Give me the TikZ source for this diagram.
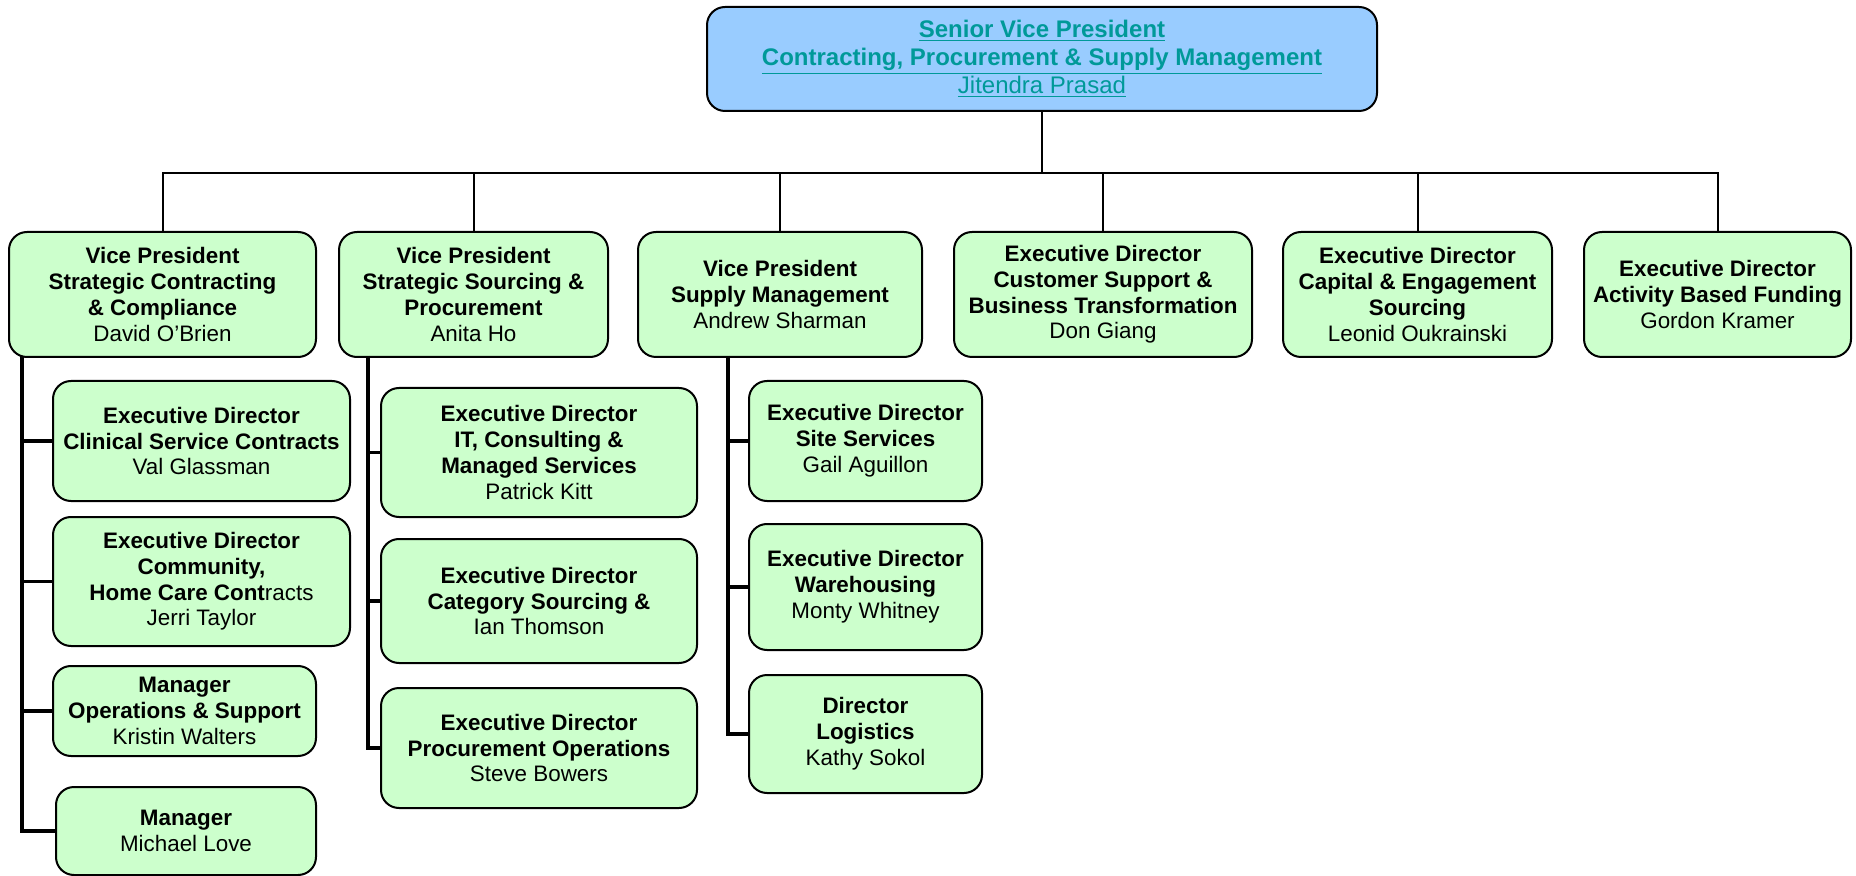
\documentclass[tikz,border=0pt]{standalone}
\usepackage{fontspec}
\setmainfont{Liberation Sans}
\definecolor{boxgreen}{RGB}{204,255,204}
\definecolor{boxblue}{RGB}{153,204,255}
\definecolor{linkteal}{RGB}{0,153,153}

\begin{document}
\begin{tikzpicture}[x=0.5pt,y=-0.5pt,
  box/.style={draw,line width=1pt,rounded corners=9pt,fill=boxgreen,align=center,inner sep=0pt,font=\fontsize{11.2}{12.9}\selectfont},
  topbox/.style={box,fill=boxblue,text=linkteal,font=\fontsize{12}{13.9}\selectfont},
  bus/.style={line width=1pt},
  spine/.style={line width=1.6pt}]
\useasboundingbox (0,0) rectangle (1856,876);
% top
\node[topbox,minimum width=335pt,minimum height=52pt] (svp)at(1042,59){\textbf{\underline{Senior Vice President}}\\ \textbf{\underline{Contracting, Procurement \& Supply Management}}\\ \underline{Jitendra Prasad}};
% first level
\node[box,minimum width=153.5pt,minimum height=62.5pt] (vpc)at(162.5,294.5){\textbf{Vice President}\\ \textbf{Strategic Contracting}\\ \textbf{\& Compliance}\\ David O’Brien};
\node[box,minimum width=134.5pt,minimum height=62.5pt] (vps)at(473.5,294.5){\textbf{Vice President}\\ \textbf{Strategic Sourcing \&}\\ \textbf{Procurement}\\ Anita Ho};
\node[box,minimum width=142pt,minimum height=62.5pt] (vpm)at(780,294.5){\textbf{Vice President}\\ \textbf{Supply Management}\\ Andrew Sharman};
\node[box,minimum width=149pt,minimum height=62.5pt] (edc)at(1103,294.5){\textbf{Executive Director}\\ \textbf{Customer Support \&}\\ \textbf{Business Transformation}\\ Don Giang};
\node[box,minimum width=134.5pt,minimum height=62.5pt] (edk)at(1417.5,294.5){\textbf{Executive Director}\\ \textbf{Capital \& Engagement}\\ \textbf{Sourcing}\\ Leonid Oukrainski};
\node[box,minimum width=133.5pt,minimum height=62.5pt] (eda)at(1717.5,294.5){\textbf{Executive Director}\\ \textbf{Activity Based Funding}\\ Gordon Kramer};
% contracting column
\node[box,minimum width=148.5pt,minimum height=60pt] (clin)at(201.5,441){\textbf{Executive Director}\\ \textbf{Clinical Service Contracts}\\ Val Glassman};
\node[box,minimum width=148.5pt,minimum height=64.5pt] (comm)at(201.5,581.5){\textbf{Executive Director}\\ \textbf{Community,}\\ \textbf{Home Care Cont}racts\\ Jerri Taylor};
\node[box,minimum width=131.5pt,minimum height=45pt] (ops)at(184.5,711){\textbf{Manager}\\ \textbf{Operations \& Support}\\ Kristin Walters};
\node[box,minimum width=130pt,minimum height=44pt] (love)at(186,831){\textbf{Manager}\\ Michael Love};
% sourcing column
\node[box,minimum width=158pt,minimum height=64.5pt] (itc)at(539,452.5){\textbf{Executive Director}\\ \textbf{IT, Consulting \&}\\ \textbf{Managed Services}\\ Patrick Kitt};
\node[box,minimum width=158pt,minimum height=62pt] (cat)at(539,601){\textbf{Executive Director}\\ \textbf{Category Sourcing \&}\\ Ian Thomson};
\node[box,minimum width=158pt,minimum height=60pt] (proc)at(539,748){\textbf{Executive Director}\\ \textbf{Procurement Operations}\\ Steve Bowers};
% supply column
\node[box,minimum width=116.5pt,minimum height=60pt] (site)at(865.5,441){\textbf{Executive Director}\\ \textbf{Site Services}\\ Gail Aguillon};
\node[box,minimum width=116.5pt,minimum height=63pt] (ware)at(865.5,587){\textbf{Executive Director}\\ \textbf{Warehousing}\\ Monty Whitney};
\node[box,minimum width=116.5pt,minimum height=59pt] (logi)at(865.5,734){\textbf{Director}\\ \textbf{Logistics}\\ Kathy Sokol};
% bus
\coordinate (bus) at (1042,173);
\draw[bus] (svp.south) -- (bus);
\draw[bus] (vpc.north) |- (bus) -| (eda.north);
\foreach \n in {vps,vpm,edc,edk} \draw[bus] (\n.north) -- (\n.north |- bus);
% spines
\coordinate (s1) at (22,356);
\coordinate (s2) at (368,356);
\coordinate (s3) at (728,356);
\draw[spine] (s1) |- (love.west);
\foreach \n in {clin,comm,ops} \draw[spine] (s1 |- \n.west) -- (\n.west);
\draw[spine] (s2) |- (proc.west);
\foreach \n in {itc,cat} \draw[spine] (s2 |- \n.west) -- (\n.west);
\draw[spine] (s3) |- (logi.west);
\foreach \n in {site,ware} \draw[spine] (s3 |- \n.west) -- (\n.west);
\end{tikzpicture}
\end{document}
